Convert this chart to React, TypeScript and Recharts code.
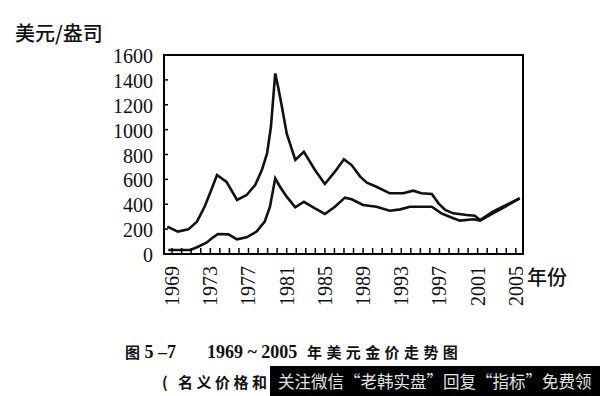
import React from 'react'
import { LineChart, Line, XAxis, YAxis, ReferenceArea } from 'recharts'

const realYears = [1968.5, 1969.6, 1970.7, 1971.6, 1972.4, 1973.1, 1973.7, 1974.7, 1975.8, 1976.8, 1977.7, 1978.4, 1978.95, 1979.35, 1979.8, 1980.1, 1980.5, 1981.0, 1981.9, 1982.8, 1983.96, 1985.0, 1986.05, 1987.0, 1987.8, 1988.7, 1989.4, 1990.4, 1991.8, 1993.2, 1994.25, 1995.1, 1996.2, 1996.9, 1997.6, 1998.45, 1999.85, 2000.7, 2001.25, 2002.6, 2004.0, 2005.4]
const realPrices = [220, 180, 198, 260, 380, 515, 635, 580, 434, 474, 555, 675, 810, 1023, 1452, 1345, 1184, 970, 756, 822, 675, 563, 662, 761, 715, 622, 573, 541, 488, 488, 509, 488, 482, 407, 354, 327, 313, 308, 273, 340, 394, 448]

const nominalYears = [1968.6, 1970.9, 1971.6, 1972.6, 1973.3, 1973.8, 1974.9, 1975.8, 1976.8, 1977.85, 1978.7, 1979.25, 1979.8, 1980.3, 1981.0, 1981.9, 1982.8, 1983.96, 1985.0, 1986.05, 1987.1, 1987.8, 1989.0, 1990.4, 1991.8, 1992.9, 1993.9, 1996.2, 1997.2, 1998.45, 1999.15, 2000.55, 2001.25, 2002.6, 2004.0, 2005.4]
const nominalPrices = [32, 32, 54, 91, 134, 161, 158, 118, 134, 180, 260, 380, 608, 541, 461, 375, 420, 367, 322, 380, 453, 440, 394, 380, 348, 359, 380, 380, 327, 287, 268, 279, 268, 327, 386, 448]

const tickYears = Array.from({ length: 37 }, (_, i) => 1969 + i)
const labelYears = [1969, 1973, 1977, 1981, 1985, 1989, 1993, 1997, 2001, 2005]
const priceTicks = [0, 200, 400, 600, 800, 1000, 1200, 1400, 1600]

const xDomain = [1968.15, 2005.75]

const realData = realYears.map((year, i) => ({ year, price: realPrices[i] }))
const nominalData = nominalYears.map((year, i) => ({ year, price: nominalPrices[i] }))

const serif = '"Liberation Serif", "DejaVu Serif", serif'
const cjk = '"Noto Sans CJK SC", sans-serif'

const YearTick = (props: any) => {
  const { x, y, payload } = props
  const show = labelYears.includes(payload.value)
  return (
    <g>
      <line x1={x} y1={y} x2={x} y2={y - 6} stroke="#000" strokeWidth={1.5} />
      {show && (
        <text
          x={x}
          y={y + 12}
          transform={`rotate(-90 ${x} ${y + 12})`}
          textAnchor="end"
          dominantBaseline="central"
          fontFamily={serif}
          fontSize={20}
          fill="#111"
        >
          {payload.value}
        </text>
      )}
    </g>
  )
}

const PriceTick = (props: any) => {
  const { x, y, payload } = props
  return (
    <g>
      <line x1={x} y1={y} x2={x + 4} y2={y} stroke="#000" strokeWidth={1.5} />
      <text x={x - 11} y={y} dy="0.4em" textAnchor="end" fontFamily={serif} fontSize={20} fill="#111">
        {payload.value}
      </text>
    </g>
  )
}

export default function App() {
  return (
    <div style={{ position: 'absolute', left: 0, top: 0, width: 600, height: 396, background: '#fff', overflow: 'hidden' }}>
      <div style={{ position: 'absolute', left: 15, top: 22, fontFamily: cjk, fontSize: 20, lineHeight: '22px', fontWeight: 500, color: '#111' }}>
        美元/盎司
      </div>
      <LineChart width={600} height={396} margin={{ top: 55, right: 77, bottom: 92, left: 0 }}>
        <XAxis
          dataKey="year"
          type="number"
          domain={xDomain}
          allowDataOverflow
          ticks={tickYears}
          interval={0}
          height={50}
          tickSize={0}
          tickMargin={0}
          tickLine={false}
          axisLine={{ stroke: '#000', strokeWidth: 2 }}
          tick={<YearTick />}
        />
        <YAxis
          type="number"
          domain={[0, 1600]}
          ticks={priceTicks}
          interval={0}
          width={164}
          tickSize={0}
          tickMargin={0}
          tickLine={false}
          axisLine={{ stroke: '#000', strokeWidth: 2 }}
          tick={<PriceTick />}
        />
        <ReferenceArea x1={xDomain[0]} x2={xDomain[1]} y1={0} y2={1600} fill="none" stroke="#000" strokeWidth={2} />
        <Line data={realData} dataKey="price" type="linear" stroke="#111" strokeWidth={2.6} dot={false} isAnimationActive={false} />
        <Line data={nominalData} dataKey="price" type="linear" stroke="#111" strokeWidth={2.6} dot={false} isAnimationActive={false} />
      </LineChart>
      <div style={{ position: 'absolute', left: 527, top: 266, fontFamily: cjk, fontSize: 20, lineHeight: '22px', fontWeight: 500, color: '#111' }}>
        年份
      </div>
      <div style={{ position: 'absolute', left: 125, top: 343, fontSize: 15, lineHeight: '18px', fontWeight: 700, color: '#111', whiteSpace: 'pre' }}>
        <span style={{ fontFamily: cjk }}>图</span>
        <span style={{ fontFamily: serif, fontSize: 18 }}> 5 –7</span>
      </div>
      <div style={{ position: 'absolute', left: 207, top: 343, fontFamily: serif, fontSize: 18, lineHeight: '18px', fontWeight: 700, color: '#111', whiteSpace: 'pre' }}>
        1969 ~ 2005
      </div>
      <div style={{ position: 'absolute', left: 307, top: 343, fontFamily: cjk, fontSize: 15, lineHeight: '18px', fontWeight: 700, letterSpacing: 4.4, color: '#111' }}>
        年美元金价走势图
      </div>
      <div style={{ position: 'absolute', left: 162, top: 373, fontFamily: cjk, fontSize: 15, lineHeight: '18px', fontWeight: 700, letterSpacing: 3.5, color: '#111', whiteSpace: 'pre' }}>
        ( 名义价格和
      </div>
      <div style={{ position: 'absolute', left: 270, top: 366, width: 330, height: 30, background: '#000', color: '#e4e4e4', fontFamily: cjk, fontSize: 16.5, lineHeight: '30px', paddingLeft: 8, boxSizing: 'border-box', whiteSpace: 'pre' }}>
        关注微信“老韩实盘”回复“指标”免费领
      </div>
    </div>
  )
}
